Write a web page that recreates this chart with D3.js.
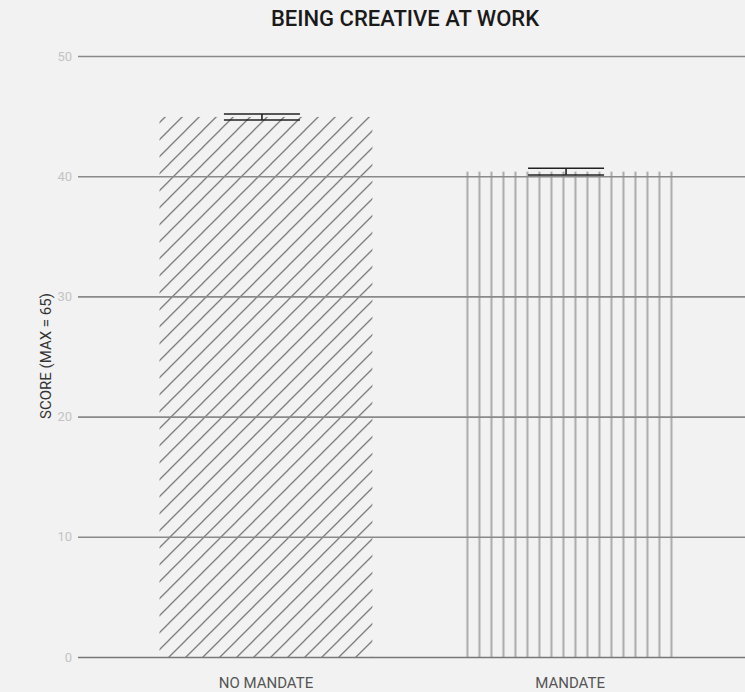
<!DOCTYPE html>
<html>
<head>
<meta charset="utf-8">
<script src="https://cdn.jsdelivr.net/npm/d3@7"></script>
<style>
  html, body { margin: 0; padding: 0; background: #f2f2f2; }
  svg { display: block; font-family: Roboto, "Noto Sans", sans-serif; }
</style>
</head>
<body>
<svg id="chart" width="745" height="692"></svg>
<script>
// Creativity scores by condition
const categories = ["NO MANDATE", "MANDATE"];
const scores = [44.93, 40.38];
const errors = [0.25, 0.28];
const yTicks = [0, 10, 20, 30, 40, 50];

const width = 745, height = 692;
const margin = { top: 56, right: 0, bottom: 35, left: 78 };

const svg = d3.select("#chart");

svg.append("rect").attr("width", width).attr("height", height).attr("fill", "#f2f2f2");

const y = d3.scaleLinear().domain([0, 50]).range([height - margin.bottom, margin.top]);
const x = d3.scaleBand().domain(categories).range([78, 758]).paddingInner(0.3).paddingOuter(0.268);

// Fill patterns: diagonal hatch and vertical lines
const defs = svg.append("defs");
const diag = defs.append("pattern")
  .attr("id", "diag").attr("patternUnits", "userSpaceOnUse")
  .attr("width", 17).attr("height", 17)
  .attr("x", x(categories[0]) - 7.4).attr("y", y(0));
diag.append("path")
  .attr("d", "M0,17 L17,0 M-4,4 L4,-4 M13,21 L21,13")
  .attr("stroke", "#777").attr("stroke-width", 1.25).attr("fill", "none");

const vert = defs.append("pattern")
  .attr("id", "vert").attr("patternUnits", "userSpaceOnUse")
  .attr("width", 12).attr("height", 12)
  .attr("x", x(categories[1])).attr("y", 0);
vert.append("line")
  .attr("x1", 3.8).attr("x2", 3.8).attr("y1", 0).attr("y2", 12)
  .attr("stroke", "#a6a6a6").attr("stroke-width", 1.9);

const fills = ["url(#diag)", "url(#vert)"];

// Bars
svg.append("g").selectAll("rect")
  .data(categories)
  .join("rect")
  .attr("x", d => x(d))
  .attr("width", x.bandwidth())
  .attr("y", (d, i) => y(scores[i]))
  .attr("height", (d, i) => y(0) - y(scores[i]))
  .attr("fill", (d, i) => fills[i]);

// Gridlines and tick labels
const yAxis = d3.axisLeft(y).tickValues(yTicks)
  .tickSize(-(width - margin.left)).tickPadding(6);
const gy = svg.append("g")
  .attr("transform", `translate(${margin.left},0)`)
  .call(yAxis);
gy.select(".domain").remove();
gy.selectAll(".tick line")
  .attr("stroke", (d) => d === 0 ? "#777" : "#8a8a8a")
  .attr("stroke-width", 1.6);
gy.selectAll(".tick text")
  .attr("fill", "#c4c4c4")
  .attr("font-size", 13)
  .attr("font-family", "Roboto, sans-serif");

// Error bars
const eb = svg.append("g").selectAll("g")
  .data(categories)
  .join("g")
  .attr("stroke", "#222").attr("stroke-width", 1.6);
const capHalf = 38;
eb.append("line")
  .attr("x1", d => x(d) + x.bandwidth() / 2 - 4 - capHalf)
  .attr("x2", d => x(d) + x.bandwidth() / 2 - 4 + capHalf)
  .attr("y1", (d, i) => y(scores[i] + errors[i]))
  .attr("y2", (d, i) => y(scores[i] + errors[i]));
eb.append("line")
  .attr("x1", d => x(d) + x.bandwidth() / 2 - 4 - capHalf)
  .attr("x2", d => x(d) + x.bandwidth() / 2 - 4 + capHalf)
  .attr("y1", (d, i) => y(scores[i] - errors[i]))
  .attr("y2", (d, i) => y(scores[i] - errors[i]));
eb.append("line")
  .attr("x1", d => x(d) + x.bandwidth() / 2 - 4)
  .attr("x2", d => x(d) + x.bandwidth() / 2 - 4)
  .attr("y1", (d, i) => y(scores[i] + errors[i]))
  .attr("y2", (d, i) => y(scores[i] - errors[i]));

// Category labels
svg.append("g").selectAll("text")
  .data(categories)
  .join("text")
  .attr("x", d => x(d) + x.bandwidth() / 2)
  .attr("y", 688)
  .attr("text-anchor", "middle")
  .attr("fill", "#555")
  .attr("font-size", 15)
  .text(d => d);

// Axis title
svg.append("text")
  .attr("transform", `translate(51,356) rotate(-90)`)
  .attr("text-anchor", "middle")
  .attr("fill", "#333")
  .attr("font-size", 15)
  .text("SCORE (MAX = 65)");

// Chart title
svg.append("text")
  .attr("x", 405).attr("y", 26)
  .attr("text-anchor", "middle")
  .attr("fill", "#1a1a1a")
  .attr("font-size", 22)
  .attr("font-weight", 500)
  .text("BEING CREATIVE AT WORK");
</script>
</body>
</html>
